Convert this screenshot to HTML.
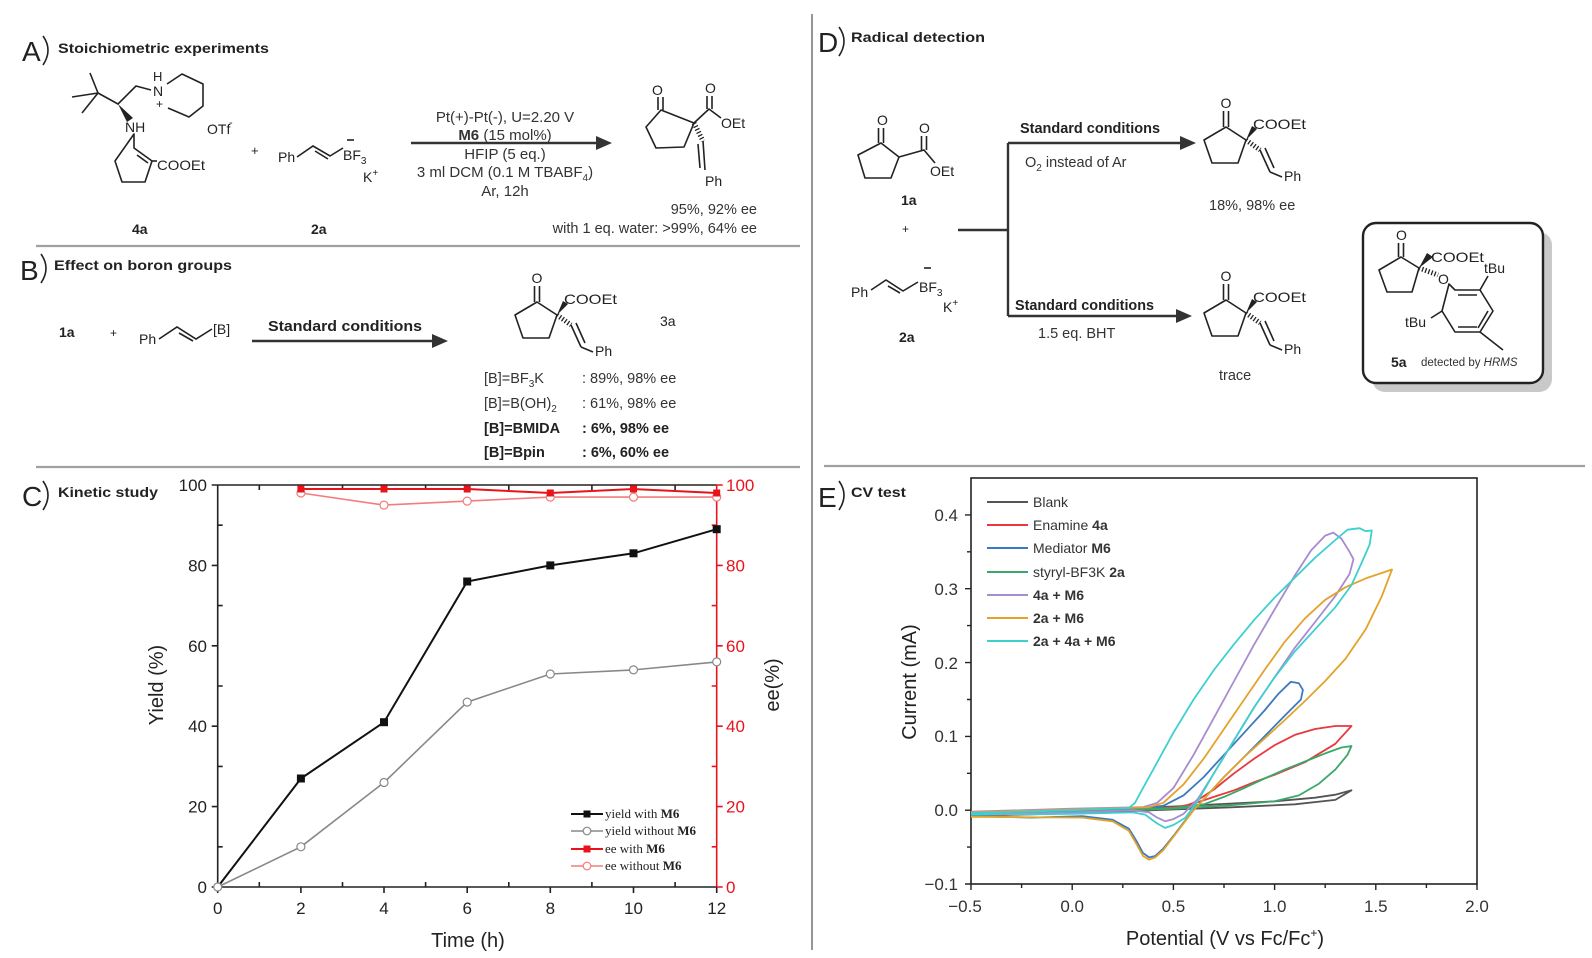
<!DOCTYPE html>
<html><head><meta charset="utf-8"><style>
html,body{margin:0;padding:0;background:#fff;}
svg{display:block;}
text{font-family:"Liberation Sans",Arial,sans-serif;}
.s{font-family:"Liberation Serif","Times New Roman",serif;}
</style></head><body>
<svg width="1592" height="958" viewBox="0 0 1592 958" xmlns="http://www.w3.org/2000/svg">
<rect width="1592" height="958" fill="#fff"/>

<!-- separators -->
<line x1="36" y1="246" x2="800" y2="246" stroke="#a0a0a0" stroke-width="2.2"/>
<line x1="36" y1="467" x2="800" y2="467" stroke="#a0a0a0" stroke-width="2.2"/>
<line x1="824" y1="466" x2="1585" y2="466" stroke="#a0a0a0" stroke-width="2.2"/>
<line x1="812" y1="14" x2="812" y2="950" stroke="#8a8a8a" stroke-width="1.8"/>

<!-- ================= PANEL A ================= -->
<g fill="#222">
<text x="22" y="61" font-size="28">A</text>
<path d="M43,36 Q53,50 43,65" fill="none" stroke="#222" stroke-width="1.6"/>
<text x="58" y="53" font-size="14" font-weight="bold" textLength="211" lengthAdjust="spacingAndGlyphs">Stoichiometric experiments</text>
</g>
<g stroke="#222" stroke-width="1.6" fill="none" stroke-linejoin="round">
<path d="M90,73 L98,93 L72,97 M98,93 L82,113 M98,93 L118,104 L136,86 L151,90"/>
<path d="M167,84 L182,74 L203,84 L203,106 L189,117 L168,108"/>
<path d="M134,134 L134,148 L152,161 L145,182 L122,182 L115,161 Z"/>
<path d="M137,155 L148,163"/>
<path d="M152,161 L157,161"/>
</g>
<polygon points="118,104 127,122 133,118" fill="#222"/>
<g fill="#222" font-size="14">
<text x="153" y="81" font-size="13">H</text>
<text x="153" y="96">N</text>
<text x="156" y="108" font-size="12">+</text>
<text x="125" y="132">NH</text>
<text x="157" y="170" textLength="48" lengthAdjust="spacingAndGlyphs">COOEt</text>
<text x="207" y="134">OTf</text>
<text x="229" y="126" font-size="11">-</text>
<text x="132" y="234" font-weight="bold">4a</text>
<text x="251" y="155" font-size="13">+</text>
<text x="278" y="162">Ph</text>
<text x="343" y="160">BF<tspan font-size="10" dy="4">3</tspan></text>
<text x="363" y="182">K<tspan font-size="10" dy="-6">+</tspan></text>
<text x="311" y="234" font-weight="bold">2a</text>
</g>
<g stroke="#222" stroke-width="1.6" fill="none">
<path d="M297,157 L313,146 L330,156 L343,148"/>
<path d="M315,151 L328,159"/>
<path d="M347,140 L354,140"/>
</g>
<!-- arrow A -->
<line x1="411" y1="143" x2="600" y2="143" stroke="#333" stroke-width="2.6"/>
<polygon points="596,136 612,143 596,150" fill="#333"/>
<g fill="#333" font-size="15" text-anchor="middle">
<text x="505" y="122">Pt(+)-Pt(-), U=2.20 V</text>
<text x="505" y="140"><tspan font-weight="bold">M6</tspan> (15 mol%)</text>
<text x="505" y="159">HFIP (5 eq.)</text>
<text x="505" y="177">3 ml DCM (0.1 M TBABF<tspan font-size="10" dy="4">4</tspan><tspan dy="-4">)</tspan></text>
<text x="505" y="196">Ar, 12h</text>
</g>
<!-- product A -->
<g stroke="#222" stroke-width="1.6" fill="none" stroke-linejoin="round">
<path d="M661,110 L694,123 L684,147 L656,148 L646,127 Z"/>
<path d="M658,110 L658,97 M663,110 L663,97"/>
<path d="M694,123 L709,109 L721,118"/>
<path d="M707,109 L707,96 M712,109 L712,96"/>
<path d="M694,123 L703,141" stroke-width="5" stroke-dasharray="1.3,2"/>
<path d="M703,141 L705,170 M698,144 L700,168"/>
</g>
<g fill="#222" font-size="14">
<text x="652" y="95">O</text>
<text x="705" y="93">O</text>
<text x="721" y="128">OEt</text>
<text x="705" y="186">Ph</text>
<text x="757" y="214" text-anchor="end" fill="#333" font-size="14.5">95%, 92% ee</text>
<text x="757" y="233" text-anchor="end" fill="#333" font-size="14.5">with 1 eq. water: &gt;99%, 64% ee</text>
</g>

<!-- ================= PANEL B ================= -->
<g fill="#222">
<text x="20" y="280" font-size="28">B</text>
<path d="M41,254 Q51,268 41,283" fill="none" stroke="#222" stroke-width="1.6"/>
<text x="54" y="270" font-size="14" font-weight="bold" textLength="178" lengthAdjust="spacingAndGlyphs">Effect on boron groups</text>
<text x="59" y="337" font-size="14" font-weight="bold">1a</text>
<text x="110" y="337" font-size="12">+</text>
<text x="139" y="344" font-size="14">Ph</text>
<text x="213" y="334" font-size="14">[B]</text>
<text x="268" y="331" font-size="15" font-weight="bold" textLength="154" lengthAdjust="spacingAndGlyphs">Standard conditions</text>
</g>
<g stroke="#222" stroke-width="1.6" fill="none">
<path d="M159,339 L177,327 L196,339 L212,329"/>
<path d="M179,333 L193,341"/>
</g>
<line x1="252" y1="341" x2="436" y2="341" stroke="#333" stroke-width="2.6"/>
<polygon points="432,334 448,341 432,348" fill="#333"/>

<!-- product group definition used 3 times -->
<defs>
<g id="prod">
<g stroke="#222" stroke-width="1.6" fill="none" stroke-linejoin="round">
<path d="M0,0 L20,13 L12,36 L-14,36 L-22,13 Z"/>
<path d="M-2.5,0 L-2.5,-16 M2.5,0 L2.5,-16"/>
<path d="M20,13 L34,23" stroke-width="5" stroke-dasharray="1.3,2"/>
<path d="M34,23 L44,45 M39,21 L48,41"/>
<path d="M44,45 L56,50"/>
</g>
<polygon points="20,13 26,-1 31,2" fill="#222"/>
<text x="-5.5" y="-19" font-size="14" fill="#222">O</text>
<text x="27" y="2" font-size="14" fill="#222" textLength="53" lengthAdjust="spacingAndGlyphs">COOEt</text>
<text x="58" y="54" font-size="14" fill="#222">Ph</text>
</g>
</defs>
<use href="#prod" x="537" y="302"/>
<text x="660" y="326" font-size="14" fill="#222">3a</text>
<g font-size="14.5" fill="#333">
<text x="484" y="383">[B]=BF<tspan font-size="10" dy="4">3</tspan><tspan dy="-4">K</tspan></text>
<text x="582" y="383">: 89%, 98% ee</text>
<text x="484" y="408">[B]=B(OH)<tspan font-size="10" dy="4">2</tspan></text>
<text x="582" y="408">: 61%, 98% ee</text>
<text x="484" y="433" font-weight="bold" fill="#222">[B]=BMIDA</text>
<text x="582" y="433" font-weight="bold" fill="#222">: 6%, 98% ee</text>
<text x="484" y="457" font-weight="bold" fill="#222">[B]=Bpin</text>
<text x="582" y="457" font-weight="bold" fill="#222">: 6%, 60% ee</text>
</g>

<!-- ================= PANEL C ================= -->
<g fill="#222">
<text x="22" y="506" font-size="28">C</text>
<path d="M43,481 Q53,495 43,510" fill="none" stroke="#222" stroke-width="1.6"/>
<text x="58" y="497" font-size="14" font-weight="bold" textLength="100" lengthAdjust="spacingAndGlyphs">Kinetic study</text>
</g>
<!-- frame -->
<g stroke="#222" stroke-width="1.6" fill="none">
<line x1="217.7" y1="485" x2="217.7" y2="887"/>
<line x1="217.7" y1="887" x2="716.7" y2="887"/>
<line x1="217.7" y1="485" x2="716.7" y2="485"/>
<path d="M217.7,887v6 M300.9,887v6 M384,887v6 M467.2,887v6 M550.3,887v6 M633.5,887v6 M716.7,887v6"/>
<path d="M259.3,887v-5 M342.5,887v-5 M425.6,887v-5 M508.8,887v-5 M591.9,887v-5 M675.1,887v-5"/>
<path d="M259.3,485v5 M342.5,485v5 M425.6,485v5 M508.8,485v5 M591.9,485v5 M675.1,485v5"/>
<path d="M217.7,887h-6 M217.7,806.6h-6 M217.7,726.2h-6 M217.7,645.8h-6 M217.7,565.4h-6 M217.7,485h-6"/>
<path d="M217.7,846.8h5 M217.7,766.4h5 M217.7,686h5 M217.7,605.6h5 M217.7,525.2h5"/>
</g>
<g stroke="#e8141b" stroke-width="1.6" fill="none">
<line x1="716.7" y1="485" x2="716.7" y2="887"/>
<path d="M716.7,887h6 M716.7,806.6h6 M716.7,726.2h6 M716.7,645.8h6 M716.7,565.4h6 M716.7,485h6"/>
<path d="M716.7,846.8h-5 M716.7,766.4h-5 M716.7,686h-5 M716.7,605.6h-5 M716.7,525.2h-5"/>
</g>
<g font-size="17" fill="#222" text-anchor="end">
<text x="207" y="893">0</text>
<text x="207" y="812.6">20</text>
<text x="207" y="732.2">40</text>
<text x="207" y="651.8">60</text>
<text x="207" y="571.4">80</text>
<text x="207" y="491">100</text>
</g>
<g font-size="17" fill="#e8141b">
<text x="726" y="893">0</text>
<text x="726" y="812.6">20</text>
<text x="726" y="732.2">40</text>
<text x="726" y="651.8">60</text>
<text x="726" y="571.4">80</text>
<text x="726" y="491">100</text>
</g>
<g font-size="17" fill="#222" text-anchor="middle">
<text x="217.7" y="914">0</text>
<text x="300.9" y="914">2</text>
<text x="384" y="914">4</text>
<text x="467.2" y="914">6</text>
<text x="550.3" y="914">8</text>
<text x="633.5" y="914">10</text>
<text x="716.7" y="914">12</text>
</g>
<text x="468" y="947" font-size="20" fill="#222" text-anchor="middle">Time (h)</text>
<text transform="translate(163,685) rotate(-90)" font-size="20" fill="#222" text-anchor="middle">Yield (%)</text>
<text transform="translate(779,685) rotate(-90)" font-size="20" fill="#222" text-anchor="middle">ee(%)</text>
<!-- series -->
<polyline points="217.7,887 300.9,846.8 384,782.5 467.2,702.1 550.3,674 633.5,669.9 716.7,661.9" fill="none" stroke="#888" stroke-width="1.6"/>
<polyline points="217.7,887 300.9,778.5 384,722.2 467.2,581.5 550.3,565.4 633.5,553.3 716.7,529.2" fill="none" stroke="#111" stroke-width="2"/>
<polyline points="300.9,493 384,505.1 467.2,501.1 550.3,497.1 633.5,497.1 716.7,497.1" fill="none" stroke="#f47c7c" stroke-width="1.6"/>
<polyline points="300.9,489 384,489 467.2,489 550.3,493 633.5,489 716.7,493" fill="none" stroke="#e8141b" stroke-width="2"/>
<g fill="#fff" stroke="#888" stroke-width="1.2">
<circle cx="217.7" cy="887" r="4"/><circle cx="300.9" cy="846.8" r="4"/><circle cx="384" cy="782.5" r="4"/><circle cx="467.2" cy="702.1" r="4"/><circle cx="550.3" cy="674" r="4"/><circle cx="633.5" cy="669.9" r="4"/><circle cx="716.7" cy="661.9" r="4"/>
</g>
<g fill="#111">
<rect x="296.9" y="774.5" width="8" height="8"/><rect x="380" y="718.2" width="8" height="8"/><rect x="463.2" y="577.5" width="8" height="8"/><rect x="546.3" y="561.4" width="8" height="8"/><rect x="629.5" y="549.3" width="8" height="8"/><rect x="712.7" y="525.2" width="8" height="8"/>
</g>
<g fill="#fff" stroke="#f47c7c" stroke-width="1.2">
<circle cx="300.9" cy="493" r="4"/><circle cx="384" cy="505.1" r="4"/><circle cx="467.2" cy="501.1" r="4"/><circle cx="550.3" cy="497.1" r="4"/><circle cx="633.5" cy="497.1" r="4"/><circle cx="716.7" cy="497.1" r="4"/>
</g>
<g fill="#e8141b">
<rect x="297.4" y="485.5" width="7" height="7"/><rect x="380.5" y="485.5" width="7" height="7"/><rect x="463.7" y="485.5" width="7" height="7"/><rect x="546.8" y="489.5" width="7" height="7"/><rect x="630" y="485.5" width="7" height="7"/><rect x="713.2" y="489.5" width="7" height="7"/>
</g>
<!-- legend C -->
<g class="s" font-size="13" fill="#222">
<line x1="571" y1="814" x2="603" y2="814" stroke="#111" stroke-width="2"/><rect x="583.5" y="810.5" width="7" height="7" fill="#111"/>
<text class="s" x="605" y="818">yield with <tspan font-weight="bold">M6</tspan></text>
<line x1="571" y1="831" x2="603" y2="831" stroke="#888" stroke-width="1.5"/><circle cx="587" cy="831" r="3.8" fill="#fff" stroke="#888" stroke-width="1.2"/>
<text class="s" x="605" y="835">yield without <tspan font-weight="bold">M6</tspan></text>
<line x1="571" y1="849" x2="603" y2="849" stroke="#e8141b" stroke-width="2"/><rect x="583.5" y="845.5" width="7" height="7" fill="#e8141b"/>
<text class="s" x="605" y="853">ee with <tspan font-weight="bold">M6</tspan></text>
<line x1="571" y1="866" x2="603" y2="866" stroke="#f47c7c" stroke-width="1.5"/><circle cx="587" cy="866" r="3.8" fill="#fff" stroke="#f47c7c" stroke-width="1.2"/>
<text class="s" x="605" y="870">ee without <tspan font-weight="bold">M6</tspan></text>
</g>

<!-- ================= PANEL D ================= -->
<g fill="#222">
<text x="818" y="52" font-size="28">D</text>
<path d="M839,27 Q849,41 839,56" fill="none" stroke="#222" stroke-width="1.6"/>
<text x="851" y="42" font-size="14" font-weight="bold" textLength="134" lengthAdjust="spacingAndGlyphs">Radical detection</text>
</g>
<g stroke="#222" stroke-width="1.6" fill="none" stroke-linejoin="round">
<path d="M881,143 L899,157 L891,178 L865,178 L858,155 Z"/>
<path d="M878.5,143 L878.5,128 M883.5,143 L883.5,128"/>
<path d="M899,157 L924,150 L935,163"/>
<path d="M921.5,150 L921.5,136 M926.5,150 L926.5,136"/>
<path d="M871,290 L886,280 L903,291 L918,282"/>
<path d="M888,286 L900,293"/>
<path d="M924,268 L931,268"/>
</g>
<g fill="#222" font-size="14">
<text x="877" y="125">O</text>
<text x="919" y="133">O</text>
<text x="930" y="176">OEt</text>
<text x="901" y="205" font-weight="bold">1a</text>
<text x="902" y="233" font-size="12">+</text>
<text x="851" y="297">Ph</text>
<text x="919" y="292">BF<tspan font-size="10" dy="4">3</tspan></text>
<text x="943" y="312">K<tspan font-size="10" dy="-6">+</tspan></text>
<text x="899" y="342" font-weight="bold">2a</text>
</g>
<g stroke="#333" stroke-width="2.4" fill="none">
<path d="M958,230 L1008,230 M1008,143 L1008,316 M1008,143 L1184,143 M1008,316 L1180,316"/>
</g>
<polygon points="1180,136 1196,143 1180,150" fill="#333"/>
<polygon points="1176,309 1192,316 1176,323" fill="#333"/>
<g font-size="14.5" fill="#222">
<text x="1020" y="133" font-weight="bold" textLength="140" lengthAdjust="spacingAndGlyphs">Standard conditions</text>
<text x="1025" y="167" fill="#333">O<tspan font-size="10" dy="4">2</tspan><tspan dy="-4"> instead of Ar</tspan></text>
<text x="1015" y="310" font-weight="bold" textLength="139" lengthAdjust="spacingAndGlyphs">Standard conditions</text>
<text x="1038" y="338" fill="#333">1.5 eq. BHT</text>
<text x="1209" y="210" fill="#333">18%, 98% ee</text>
<text x="1219" y="380" fill="#333">trace</text>
</g>
<use href="#prod" x="1226" y="127"/>
<use href="#prod" x="1226" y="300"/>
<!-- 5a box -->
<rect x="1372" y="232" width="180" height="160" rx="13" fill="#c9c9c9"/>
<rect x="1363" y="223" width="180" height="160" rx="13" fill="#fff" stroke="#222" stroke-width="2.4"/>
<g stroke="#222" stroke-width="1.6" fill="none" stroke-linejoin="round">
<path d="M1401,257 L1419,268 L1412,292 L1387,292 L1379,270 Z"/>
<path d="M1398.5,257 L1398.5,243 M1403.5,257 L1403.5,243"/>
<path d="M1419,268 L1438,275" stroke-width="5" stroke-dasharray="1.3,2"/>
<path d="M1449,284 L1455,290 L1480,290 L1493,311 L1480,332 L1455,332 L1442,311 Z"/>
<path d="M1458,295 L1477,295 M1458,327 L1477,327 M1488,311 L1478,328"/>
<path d="M1480,290 L1488,276"/>
<path d="M1442,311 L1431,318"/>
<path d="M1480,332 L1503,350"/>
</g>
<polygon points="1419,268 1427,253 1433,257" fill="#222"/>
<g fill="#222" font-size="14">
<text x="1396" y="240">O</text>
<text x="1431" y="262" textLength="53" lengthAdjust="spacingAndGlyphs">COOEt</text>
<text x="1484" y="273">tBu</text>
<text x="1438" y="284">O</text>
<text x="1405" y="327">tBu</text>
<text x="1391" y="367" font-weight="bold">5a</text>
<text x="1421" y="366" font-size="11.5" fill="#333">detected by <tspan font-style="italic">HRMS</tspan></text>
</g>

<!-- ================= PANEL E ================= -->
<g fill="#222">
<text x="818" y="507" font-size="28">E</text>
<path d="M839,481 Q849,495 839,510" fill="none" stroke="#222" stroke-width="1.6"/>
<text x="851" y="497" font-size="14" font-weight="bold" textLength="55" lengthAdjust="spacingAndGlyphs">CV test</text>
</g>
<rect x="971" y="478" width="506" height="406" fill="none" stroke="#222" stroke-width="1.6"/>
<g stroke="#222" stroke-width="1.4" fill="none">
<path d="M971,884v6 M1072.2,884v6 M1173.4,884v6 M1274.6,884v6 M1375.8,884v6 M1477,884v6"/>
<path d="M1021.6,884v4 M1122.8,884v4 M1224,884v4 M1325.2,884v4 M1426.4,884v4"/>
<path d="M971,884h-6 M971,810.2h-6 M971,736.4h-6 M971,662.6h-6 M971,588.7h-6 M971,514.9h-6"/>
<path d="M971,847.1h-4 M971,773.3h-4 M971,699.5h-4 M971,625.6h-4 M971,551.8h-4"/>
</g>
<g font-size="17" fill="#333" text-anchor="end">
<text x="958" y="890">−0.1</text>
<text x="958" y="816">0.0</text>
<text x="958" y="742">0.1</text>
<text x="958" y="669">0.2</text>
<text x="958" y="595">0.3</text>
<text x="958" y="521">0.4</text>
</g>
<g font-size="17" fill="#333" text-anchor="middle">
<text x="965" y="912">−0.5</text>
<text x="1072.2" y="912">0.0</text>
<text x="1173.4" y="912">0.5</text>
<text x="1274.6" y="912">1.0</text>
<text x="1375.8" y="912">1.5</text>
<text x="1477" y="912">2.0</text>
</g>
<text x="1225" y="945" font-size="20" fill="#222" text-anchor="middle">Potential (V vs Fc/Fc<tspan font-size="12" dy="-8">+</tspan><tspan dy="8">)</tspan></text>
<text transform="translate(916,682) rotate(-90)" font-size="20" fill="#222" text-anchor="middle">Current (mA)</text>

<g fill="none" stroke-width="1.8" stroke-linejoin="round">
<polyline stroke="#555" points="971,813.2 1072.2,809.5 1173.4,806.5 1274.6,801.3 1315.1,797.7 1335.3,794.7 1351.5,790.3 1335.3,799.9 1294.8,804.3 1234.1,807.2 1173.4,809.5 1072.2,813.2 971,815.4"/>
<polyline stroke="#e8383d" points="971,814.6 1072.2,811.7 1153.2,808.7 1183.5,806.5 1193.6,802.8 1213.9,789.5 1234.1,773.3 1254.4,758.5 1274.6,745.2 1294.8,734.9 1315.1,729 1335.3,726 1351.5,726 1335.3,743.8 1305,762.2 1274.6,774.8 1254.4,782.1 1234.1,790.3 1213.9,796.9 1193.6,803.6 1173.4,808 1132.9,810.2 1072.2,813.2 971,816.1"/>
<polyline stroke="#3a7ac0" points="971,812.4 1072.2,809.5 1143,808 1163.3,805.8 1183.5,795.4 1203.8,777 1224,754.8 1244.2,732.7 1264.5,710.5 1278.6,693.6 1290.8,681.8 1298.9,683.2 1302.9,689.9 1300.9,699.5 1284.7,715.7 1264.5,736.4 1244.2,757 1224,777 1203.8,799.1 1193.6,810.2 1183.5,822.7 1173.4,836 1163.3,848.6 1155.2,856 1149.1,857.4 1143,853 1137,841.9 1128.9,828.7 1112.7,819.8 1082.3,816.1 1031.7,817.6 971,816.1"/>
<polyline stroke="#3aa86b" points="971,813.9 1072.2,810.9 1173.4,808 1203.8,804.3 1224,796.9 1244.2,788.1 1264.5,778.5 1284.7,769.6 1305,761.5 1325.2,753.4 1341.4,747.5 1351.5,746 1347.5,754.8 1335.3,769.6 1319.1,783.6 1298.9,795.4 1274.6,801.3 1234.1,805 1173.4,808.7 1072.2,812.4 971,814.6"/>
<polyline stroke="#a98bd0" points="971,811.7 1072.2,808.7 1143,807.2 1157.2,802.8 1173.4,788.1 1193.6,754.8 1213.9,717.9 1234.1,681 1254.4,644.1 1274.6,609.4 1294.8,575.5 1311.1,550.4 1325.2,535.6 1333.3,532.6 1341.4,538.6 1349.5,551.8 1353.5,559.2 1349.5,574 1335.3,596.1 1315.1,622 1294.8,647.8 1274.6,677.3 1254.4,706.9 1234.1,740.1 1213.9,773.3 1197.7,799.1 1183.5,813.9 1173.4,819.1 1165.3,821.3 1157.2,817.6 1149.1,812.4 1132.9,810.2 1072.2,812.4 971,814.6"/>
<polyline stroke="#e3a32a" points="971,812.4 1072.2,809.5 1149.1,807.2 1163.3,802.8 1183.5,784.4 1203.8,758.5 1224,729 1244.2,699.5 1264.5,670 1284.7,641.9 1305,618.3 1325.2,599.8 1345.4,587.3 1365.7,578.4 1392,569.5 1381.9,596.1 1365.7,629.3 1345.4,658.9 1325.2,681 1305,701 1284.7,720.1 1264.5,738.6 1244.2,757 1224,777 1203.8,799.1 1193.6,810.2 1183.5,823.5 1173.4,836.8 1163.3,850.1 1155.2,857.4 1149.1,859.7 1143,856 1137,844.9 1128.9,830.9 1112.7,821.3 1082.3,817.6 971,816.8"/>
<polyline stroke="#3ecfcf" points="971,813.2 1072.2,810.2 1128.9,808 1135,802.8 1143,788.1 1153.2,769.6 1173.4,732.7 1193.6,699.5 1213.9,670 1234.1,644.1 1254.4,619.7 1274.6,597.6 1294.8,577.7 1315.1,557.7 1335.3,540 1347.5,529.7 1359.6,528.2 1365.7,531.2 1371.8,530.4 1369.7,544.4 1361.6,562.9 1351.5,585.1 1335.3,607.2 1315.1,629.3 1294.8,651.5 1274.6,677.3 1254.4,706.9 1234.1,740.1 1213.9,773.3 1197.7,801.3 1185.5,817.6 1173.4,825 1165.3,827.9 1157.2,823.5 1145.1,814.6 1132.9,812.4 1072.2,813.9 971,814.6"/>
</g>
<!-- legend E -->
<g stroke-width="2">
<line x1="987" y1="502" x2="1028" y2="502" stroke="#555"/>
<line x1="987" y1="525" x2="1028" y2="525" stroke="#e8383d"/>
<line x1="987" y1="548" x2="1028" y2="548" stroke="#3a7ac0"/>
<line x1="987" y1="572" x2="1028" y2="572" stroke="#3aa86b"/>
<line x1="987" y1="595" x2="1028" y2="595" stroke="#a98bd0"/>
<line x1="987" y1="618" x2="1028" y2="618" stroke="#e3a32a"/>
<line x1="987" y1="641" x2="1028" y2="641" stroke="#3ecfcf"/>
</g>
<g font-size="14" fill="#333">
<text x="1033" y="507">Blank</text>
<text x="1033" y="530">Enamine <tspan font-weight="bold">4a</tspan></text>
<text x="1033" y="553">Mediator <tspan font-weight="bold">M6</tspan></text>
<text x="1033" y="577">styryl-BF3K <tspan font-weight="bold">2a</tspan></text>
<text x="1033" y="600" font-weight="bold">4a + M6</text>
<text x="1033" y="623" font-weight="bold">2a + M6</text>
<text x="1033" y="646" font-weight="bold">2a + 4a + M6</text>
</g>
</svg>
</body></html>
